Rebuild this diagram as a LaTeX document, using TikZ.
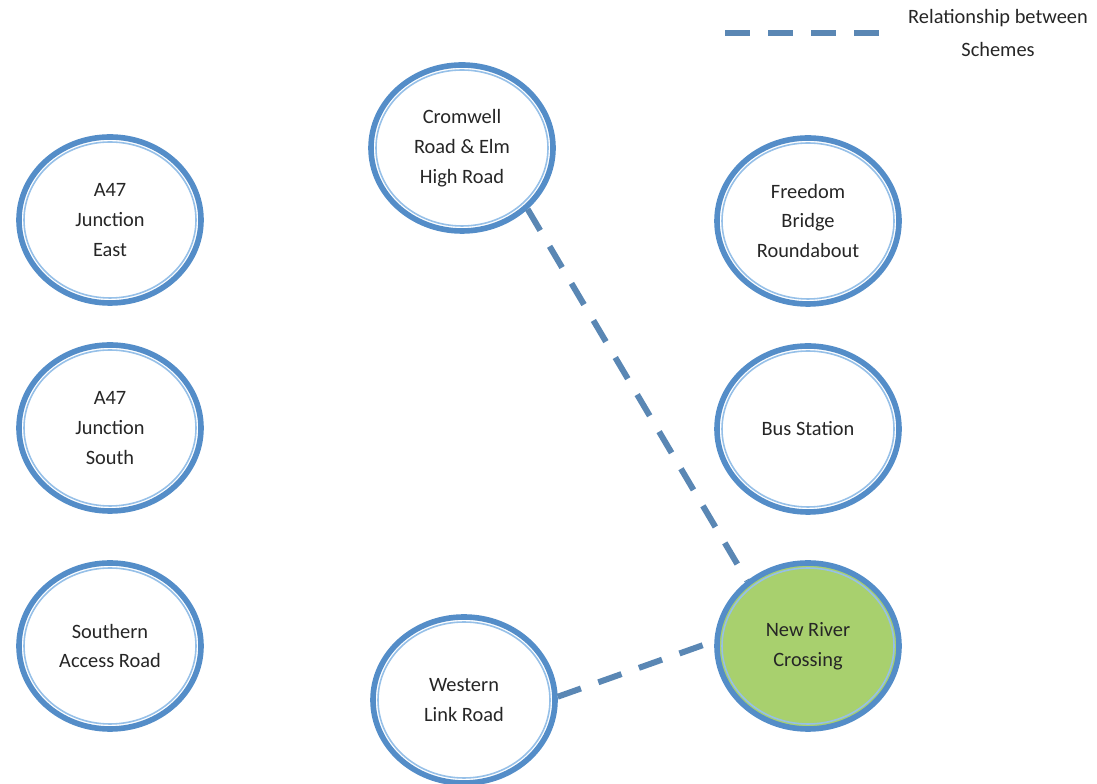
\documentclass[tikz,border=0pt]{standalone}
\usepackage{fontspec}
\setmainfont{Carlito}
\usetikzlibrary{shapes.geometric}

\definecolor{ringblue}{RGB}{84,141,200}
\definecolor{ringlight}{RGB}{150,192,232}
\definecolor{linkblue}{RGB}{90,135,180}
\definecolor{newgreen}{RGB}{168,208,110}

\begin{document}
\begin{tikzpicture}[
    scheme/.style={ellipse, draw=ringblue, line width=3.2pt, fill=white,
      minimum width=3.64cm, minimum height=3.32cm, inner sep=0pt,
      align=center, text=black!85, font=\fontsize{11.6}{17}\selectfont},
    link/.style={draw=linkblue, line width=3.4pt, dash pattern=on 14pt off 10.5pt},
    keytext/.style={align=center, text=black!85, font=\fontsize{11.6}{18.5}\selectfont}]

    \useasboundingbox (0,0) rectangle (21.94,15.68);

    % left column
    \node[scheme] (aje) at (2.2,11.28) {A47\\Junction\\East};
    \node[scheme] (ajs) at (2.2,7.12) {A47\\Junction\\South};
    \node[scheme] (sar) at (2.2,2.76) {Southern\\Access Road};

    % middle
    \node[scheme] (crm) at (9.24,12.72) {Cromwell\\Road \& Elm\\High Road};
    \node[scheme] (wlr) at (9.28,1.68) {Western\\Link Road};

    % right column
    \node[scheme] (fbr) at (16.16,11.26) {Freedom\\Bridge\\Roundabout};
    \node[scheme] (bus) at (16.16,7.10) {Bus Station};
    \node[scheme, fill=newgreen] (nrc) at (16.16,2.76) {New River\\Crossing};

    % thin inner rings
    \foreach \s in {aje,ajs,sar,crm,wlr,fbr,bus,nrc}
        \draw [ringlight, line width=0.9pt] (\s.center) ellipse (1.72cm and 1.56cm);

    % relationships
    \draw[link] (crm.-43) -- (nrc.133);
    \draw[link] (wlr.2) -- (nrc.177);

    % key
    \coordinate (keyA) at (14.5,15.02);
    \coordinate (keyB) at (17.58,15.02);
    \draw[link] (keyA) -- (keyB);
    \node[keytext] (key) at (19.96,15.02) {Relationship between\\Schemes};

\end{tikzpicture}
\end{document}
